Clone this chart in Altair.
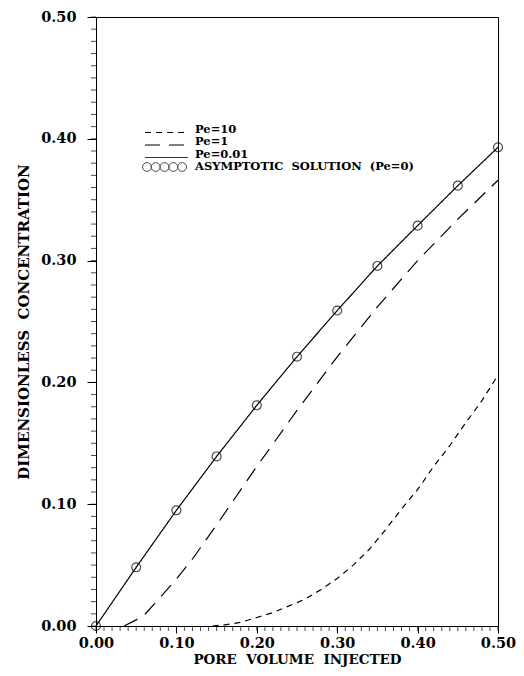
import altair as alt
import pandas as pd

# ---- data ----
asym_x = [0.00, 0.05, 0.10, 0.15, 0.20, 0.25, 0.30, 0.35, 0.40, 0.45, 0.50]
asym_y = [0.0, 0.0482, 0.0950, 0.1392, 0.1812, 0.2211, 0.2590, 0.2956, 0.3287, 0.3615, 0.3930]

pe001_x = [0.00, 0.05, 0.10, 0.15, 0.20, 0.25, 0.30, 0.35, 0.40, 0.45, 0.50]
pe001_y = [0.0, 0.0482, 0.0950, 0.1392, 0.1812, 0.2211, 0.2590, 0.2956, 0.3287, 0.3615, 0.3930]

pe1_x = [0.035, 0.05, 0.06, 0.08, 0.10, 0.12, 0.15, 0.20, 0.25, 0.30, 0.35, 0.40, 0.45, 0.50]
pe1_y = [0.0, 0.005, 0.009, 0.0235, 0.0385, 0.055, 0.083, 0.131, 0.177, 0.221, 0.262, 0.300, 0.334, 0.366]

pe10_x = [0.145, 0.16, 0.18, 0.20, 0.22, 0.24, 0.26, 0.28, 0.30, 0.32, 0.34, 0.36, 0.38, 0.40, 0.42, 0.44, 0.46, 0.48, 0.50]
pe10_y = [0.0, 0.001, 0.003, 0.007, 0.011, 0.0165, 0.022, 0.030, 0.039, 0.050, 0.063, 0.079, 0.096, 0.112, 0.131, 0.148, 0.167, 0.185, 0.206]

series_names = ["Pe=10", "Pe=1", "Pe=0.01", "ASYMPTOTIC\u00a0 SOLUTION\u00a0 (Pe=0)"]
major_ticks = [0.0, 0.1, 0.2, 0.3, 0.4, 0.5]
minor_ticks = [round(i * 0.01, 2) for i in range(51)]

FONT = "DejaVu Serif"

lines_df = pd.concat([
    pd.DataFrame({"x": pe10_x, "y": pe10_y, "s": series_names[0]}),
    pd.DataFrame({"x": pe1_x, "y": pe1_y, "s": series_names[1]}),
    pd.DataFrame({"x": pe001_x, "y": pe001_y, "s": series_names[2]}),
])
asym_df = pd.DataFrame({"x": asym_x, "y": asym_y})
minor_df = pd.DataFrame({"x": minor_ticks, "y": minor_ticks})

xs = alt.Scale(domain=[0, 0.5], nice=False, zero=False)
ys = alt.Scale(domain=[0, 0.5], nice=False, zero=False)

major_x = alt.Axis(values=major_ticks, format=".2f", orient="bottom", tickSize=7,
                   labelFont=FONT, labelFontWeight="bold", labelFontSize=14.5, labelColor="black",
                   labelPadding=3, title="PORE\u00a0 VOLUME\u00a0 INJECTED", titleFont=FONT,
                   titleFontWeight="bold", titleFontSize=13.5, titleColor="black", titlePadding=3,
                   grid=False, domainColor="black", tickColor="black", labelFlush=False)
major_y = alt.Axis(values=major_ticks, format=".2f", orient="left", tickSize=9,
                   labelFont=FONT, labelFontWeight="bold", labelFontSize=14.5, labelColor="black",
                   labelPadding=11, title="DIMENSIONLESS\u00a0 CONCENTRATION", titleFont=FONT,
                   titleFontWeight="bold", titleFontSize=15, titleColor="black", titlePadding=9,
                   grid=False, domainColor="black", tickColor="black", labelFlush=False)

X = lambda: alt.X("x:Q", scale=xs, axis=major_x)
Y = lambda: alt.Y("y:Q", scale=ys, axis=major_y)

lines = alt.Chart(lines_df).mark_line(color="black").encode(
    x=X(), y=Y(),
    detail="s:N",
    strokeDash=alt.StrokeDash("s:N", scale=alt.Scale(domain=series_names[:3],
                              range=[[6, 5], [15, 9], [1, 0]]), legend=None),
    strokeWidth=alt.StrokeWidth("s:N", scale=alt.Scale(domain=series_names[:3],
                                range=[1.2, 1.2, 1.0]), legend=None),
)

# minor ticks every 0.01 (outside the frame, like the reference)
minor_xt = alt.Chart(minor_df).mark_tick(color="black", thickness=1, size=5,
                                         orient="vertical", yOffset=2.5).encode(
    x=X(), y=alt.value(609),
)
minor_yt = alt.Chart(minor_df).mark_tick(color="black", thickness=1, size=5,
                                         orient="horizontal", xOffset=-2.5).encode(
    y=Y(), x=alt.value(0),
)

points = alt.Chart(asym_df).mark_point(shape="circle", size=80, filled=False,
                                       color="black", strokeWidth=1.2).encode(
    x=X(), y=Y(),
)

# ---- legend (drawn inside the plot) ----
leg_x0, leg_x1, txt_x = 49, 92, 99
row_y = [112.5, 125, 137.5, 150]
leg_layers = []
dashes = [[6, 5], [15, 9], [1, 0]]
widths = [1.2, 1.2, 0.8]
for i in range(3):
    leg_layers.append(
        alt.Chart(pd.DataFrame({"s": [series_names[i]]})).mark_rule(
            color="black", strokeDash=dashes[i], strokeWidth=widths[i]).encode(
            x=alt.value(leg_x0), x2=alt.value(leg_x1), y=alt.value(row_y[i] + 3))
    )
five_circles = ("M-0.6,0 A0.2,0.2 0 1,1 -1.0,0 A0.2,0.2 0 1,1 -0.6,0 Z "
                "M-0.2,0 A0.2,0.2 0 1,1 -0.6,0 A0.2,0.2 0 1,1 -0.2,0 Z "
                "M0.2,0 A0.2,0.2 0 1,1 -0.2,0 A0.2,0.2 0 1,1 0.2,0 Z "
                "M0.6,0 A0.2,0.2 0 1,1 0.2,0 A0.2,0.2 0 1,1 0.6,0 Z "
                "M1.0,0 A0.2,0.2 0 1,1 0.6,0 A0.2,0.2 0 1,1 1.0,0 Z")
leg_layers.append(
    alt.Chart(pd.DataFrame({"s": [series_names[3]]})).mark_point(
        shape=five_circles, size=1936, filled=False, color="black", strokeWidth=1).encode(
        x=alt.value((leg_x0 + leg_x1) / 2 - 2), y=alt.value(row_y[3]))
)
leg_text_df = pd.DataFrame({"s": series_names, "ry": row_y})
leg_text = alt.Chart(leg_text_df).mark_text(
    align="left", baseline="middle", font=FONT, fontWeight="bold", fontSize=11.5, color="black"
).encode(x=alt.value(txt_x), y=alt.Y("ry:Q", scale=None), text="s:N")

chart = alt.layer(lines, minor_xt, minor_yt, points, *leg_layers, leg_text).properties(
    width=402, height=609,
    padding={"left": 88, "top": 9, "right": 18, "bottom": 42},
    autosize=alt.AutoSizeParams(type="none"),
).configure_view(stroke="black", strokeWidth=1)

chart.save("out.html", embed_options={"renderer": "svg", "actions": False})
